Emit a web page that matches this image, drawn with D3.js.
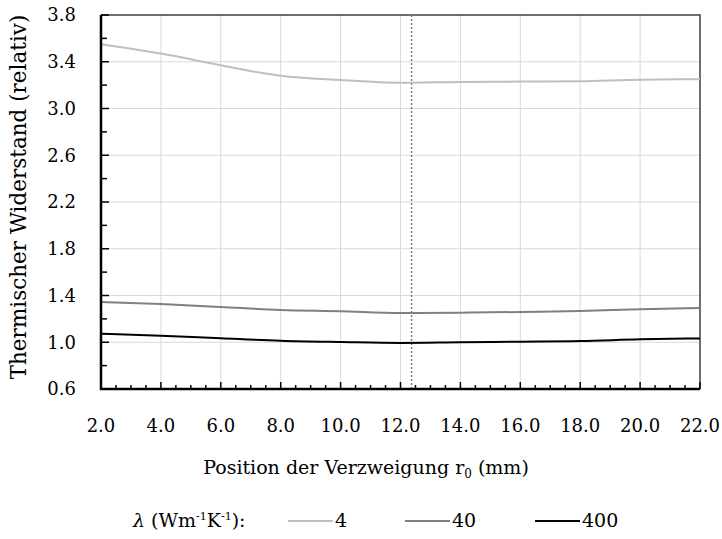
<!DOCTYPE html>
<html>
<head>
<meta charset="utf-8">
<script src="https://cdn.jsdelivr.net/npm/d3@7"></script>
<style>
  body { margin: 0; background: #fff; }
  svg { display: block; font-family: "DejaVu Serif", serif; }
</style>
</head>
<body>
<svg id="chart"></svg>
<script>
// positions of the branch point r0 (mm)
const positions = [2, 4, 6, 8, 10, 12, 14, 16, 18, 20, 22]
// relative thermal resistance for each conductivity
const lambda4 = [3.55, 3.47, 3.37, 3.28, 3.244, 3.22, 3.227, 3.23, 3.233, 3.247, 3.25]
const lambda40 = [1.344, 1.327, 1.302, 1.276, 1.265, 1.25, 1.253, 1.259, 1.267, 1.282, 1.292]
const lambda400 = [1.073, 1.056, 1.034, 1.013, 1.002, 0.994, 1.0, 1.005, 1.01, 1.025, 1.033]
const seriesNames = ["4", "40", "400"]
const seriesColors = ["#bfbfbf", "#808080", "#000000"]
const yTicks = [0.6, 1.0, 1.4, 1.8, 2.2, 2.6, 3.0, 3.4, 3.8]
const xTicks = [2, 4, 6, 8, 10, 12, 14, 16, 18, 20, 22]
const optimum = 12.37

const width = 722
const height = 539
const plotL = 101, plotR = 700, plotT = 15, plotB = 389

const svg = d3.select("#chart")
  .attr("width", width)
  .attr("height", height)
  .attr("viewBox", [0, 0, width, height])

const x = d3.scaleLinear().domain([2, 22]).range([plotL, plotR])
const y = d3.scaleLinear().domain([0.6, 3.8]).range([plotB, plotT])

// grid
svg.append("g")
  .selectAll("line")
  .data(xTicks.slice(1, -1))
  .join("line")
    .attr("x1", d => x(d)).attr("x2", d => x(d))
    .attr("y1", plotT).attr("y2", plotB)
    .attr("stroke", "#d9d9d9")
    .attr("stroke-width", 1)
svg.append("g")
  .selectAll("line")
  .data(yTicks.slice(1, -1))
  .join("line")
    .attr("x1", plotL).attr("x2", plotR)
    .attr("y1", d => y(d)).attr("y2", d => y(d))
    .attr("stroke", "#d9d9d9")
    .attr("stroke-width", 1)

// frame top/right
svg.append("path")
  .attr("d", `M${plotL},${plotT}H${plotR}V${plotB}`)
  .attr("fill", "none")
  .attr("stroke", "#404040")
  .attr("stroke-width", 1.5)

// dotted marker line
svg.append("line")
  .attr("x1", x(optimum)).attr("x2", x(optimum))
  .attr("y1", plotT).attr("y2", plotB)
  .attr("stroke", "#808080")
  .attr("stroke-width", 1.5)
  .attr("stroke-dasharray", "2,2")

// lines
const data = [lambda4, lambda40, lambda400]
const line = d3.line()
  .curve(d3.curveMonotoneX)
  .x((d, i) => x(positions[i]))
  .y(d => y(d))
svg.append("g")
  .selectAll("path")
  .data(data)
  .join("path")
    .attr("d", d => line(d))
    .attr("fill", "none")
    .attr("stroke", (d, i) => seriesColors[i])
    .attr("stroke-width", 2)

// inward ticks (minor every 0.5 / 0.2, major on labels)
const xMinor = d3.range(0, 41).map(i => 2 + i * 0.5)
const yMinor = d3.range(0, 17).map(i => 0.6 + i * 0.2)
const ticks = svg.append("g").attr("stroke", "#000").attr("stroke-width", 1.5)
ticks.selectAll(".xt")
  .data(xMinor)
  .join("line")
    .attr("class", "xt")
    .attr("x1", d => x(d)).attr("x2", d => x(d))
    .attr("y1", plotB)
    .attr("y2", (d, i) => plotB - (i % 4 === 0 ? 7 : 4))
ticks.selectAll(".yt")
  .data(yMinor)
  .join("line")
    .attr("class", "yt")
    .attr("y1", d => y(d)).attr("y2", d => y(d))
    .attr("x1", plotL)
    .attr("x2", (d, i) => plotL + (i % 2 === 0 ? 8 : 6))

svg.append("g")
  .selectAll("text")
  .data(xTicks)
  .join("text")
    .attr("x", d => x(d))
    .attr("y", 432)
    .attr("text-anchor", "middle")
    .attr("font-size", 18)
    .attr("fill", "#000")
    .text(d => d3.format(".1f")(d))

svg.append("g")
  .selectAll("text")
  .data(yTicks)
  .join("text")
    .attr("x", 76)
    .attr("y", d => y(d))
    .attr("dy", "0.35em")
    .attr("text-anchor", "end")
    .attr("font-size", 18)
    .attr("fill", "#000")
    .text(d => d3.format(".1f")(d))

// main axes
svg.append("path")
  .attr("d", `M${plotL},${plotT}V${plotB}H${plotR}`)
  .attr("fill", "none")
  .attr("stroke", "#000")
  .attr("stroke-width", 2.5)

// axis titles
svg.append("text")
  .attr("transform", `translate(26,197) rotate(-90)`)
  .attr("text-anchor", "middle")
  .attr("font-size", 21.5)
  .text("Thermischer Widerstand (relativ)")

const xt = svg.append("text")
  .attr("x", 366)
  .attr("y", 474)
  .attr("text-anchor", "middle")
  .attr("font-size", 19)
xt.append("tspan").text("Position der Verzweigung r")
xt.append("tspan").attr("font-size", 12).attr("dy", 4).text("0")
xt.append("tspan").attr("dy", -4).text(" (mm)")

// legend
const lg = svg.append("text")
  .attr("x", 133)
  .attr("y", 527)
  .attr("font-size", 19)
lg.append("tspan").attr("font-style", "italic").text("λ")
lg.append("tspan").text(" (Wm")
lg.append("tspan").attr("font-size", 11).attr("dy", -7).text("-1")
lg.append("tspan").attr("dy", 7).text("K")
lg.append("tspan").attr("font-size", 11).attr("dy", -7).text("-1")
lg.append("tspan").attr("dy", 7).text("):")

const legendX = [288, 405, 535]
const items = svg.append("g")
  .selectAll("g")
  .data(seriesNames)
  .join("g")
    .attr("transform", (d, i) => `translate(${legendX[i]},521)`)
items.append("line")
  .attr("x1", 0).attr("x2", 45)
  .attr("stroke", (d, i) => seriesColors[i])
  .attr("stroke-width", 2)
items.append("text")
  .attr("x", 47)
  .attr("y", 6)
  .attr("font-size", 19)
  .text(d => d)
</script>
</body>
</html>
